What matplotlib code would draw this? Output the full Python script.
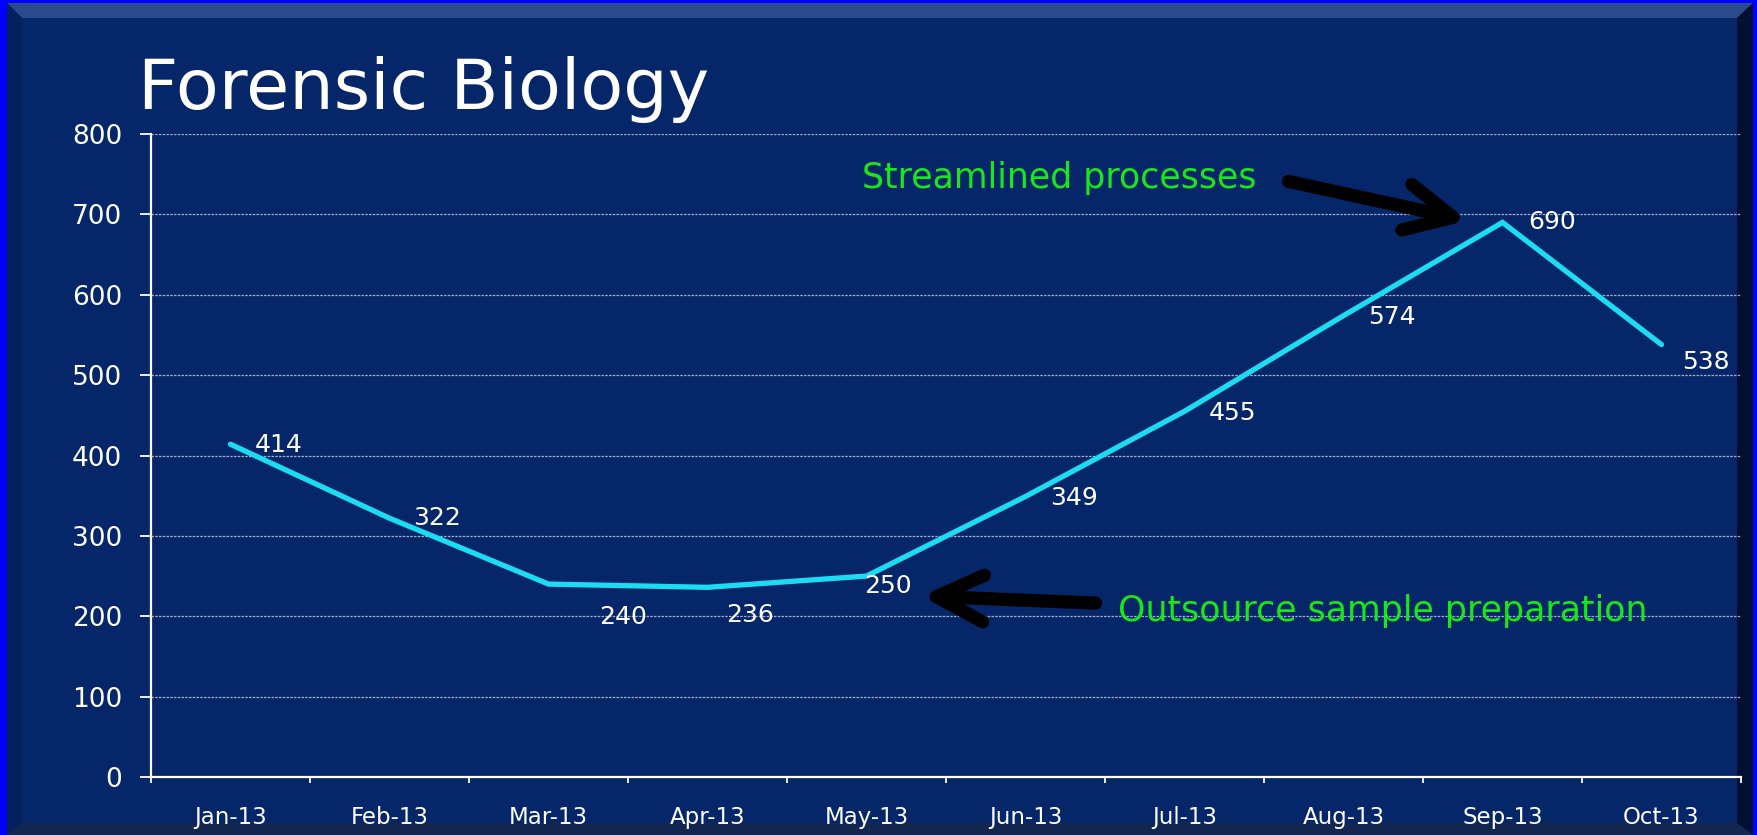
import matplotlib
matplotlib.use("Agg")
import matplotlib.pyplot as plt
import matplotlib.patches as mpatches
import matplotlib.transforms as mtransforms
import numpy as np

# ---- data ----
months = ['Jan-13', 'Feb-13', 'Mar-13', 'Apr-13', 'May-13',
          'Jun-13', 'Jul-13', 'Aug-13', 'Sep-13', 'Oct-13']
counts = [414, 322, 240, 236, 250, 349, 455, 574, 690, 538]
y_ticks = [0, 100, 200, 300, 400, 500, 600, 700, 800]
title = 'Forensic Biology'
note_peak = 'Streamlined processes'
note_low = 'Outsource sample preparation'

# ---- style / layout ----
label_offsets = [(48, -1), (48, 0), (75, -33), (43, -28), (21, -10),
                 (48, -2), (48, -2), (48, -1), (50, 0), (44, -17)]
W, H = 1758, 835
NAVY = '#06266A'
LINE = '#1CDCF2'
GREEN = '#1AE61A'

plt.rcParams['font.family'] = ['DejaVu Sans']
fig = plt.figure(figsize=(W / 100, H / 100), dpi=100)
fig.patch.set_facecolor('#0000FF')


def px(x, y):
    return (x / W, (H - y) / H)


def poly(points, color):
    p = mpatches.Polygon([px(x, y) for x, y in points], closed=True,
                         transform=fig.transFigure, facecolor=color,
                         edgecolor='none', zorder=-10)
    fig.patches.append(p)


# panel with bevel
poly([(7, 3), (1753, 3), (1753, 835), (7, 835)], NAVY)
poly([(7, 3), (1753, 3), (1737, 18), (22, 18)], '#2A4A8C')
poly([(7, 3), (22, 18), (22, 823), (7, 835)], '#04215E')
poly([(1753, 3), (1753, 835), (1737, 823), (1737, 18)], '#020F33')
poly([(7, 835), (1753, 835), (1737, 823), (22, 823)], '#13264F')

# axes
left, right, top, bottom = 151, 1741, 134, 777
ax = fig.add_axes([left / W, (H - bottom) / H, (right - left) / W, (bottom - top) / H])
ax.set_facecolor('none')
x = np.arange(len(months))
ax.set_xlim(-0.5, len(months) - 0.5)
ax.set_ylim(0, 800)

for s in ['top', 'right']:
    ax.spines[s].set_visible(False)
for s in ['left', 'bottom']:
    ax.spines[s].set_color('white')
    ax.spines[s].set_linewidth(1.6)

ax.set_yticks(y_ticks)
ax.set_yticklabels([str(v) for v in y_ticks])
ax.tick_params(axis='y', colors='white', labelsize=19, length=7.6, width=1.3, pad=13)
ax.set_xticks(x)
ax.set_xticklabels(months)
ax.tick_params(axis='x', which='major', colors='white', labelsize=16.5, length=0, pad=21)
ax.set_xticks(np.arange(-0.5, len(months)), minor=True)
ax.tick_params(axis='x', which='minor', colors='white', length=4.5, width=1.3)

for v in y_ticks[1:]:
    ax.axhline(v, color='#A2ACC8', lw=0.9, ls=(0, (2, 1)), zorder=1)

ax.plot(x, counts, color=LINE, lw=3.8, solid_capstyle='round',
        solid_joinstyle='miter', zorder=3)

for xi, yi, (dx, dy) in zip(x, counts, label_offsets):
    ax.annotate(str(yi), xy=(xi, yi), xytext=(dx, dy), textcoords='offset pixels',
                ha='center', va='center', color='white', fontsize=18, zorder=4)


def off(dx, dy):
    return mtransforms.offset_copy(ax.transData, fig=fig, x=dx, y=dy, units='dots')


arrow_kw = dict(arrowstyle='->, head_length=0.85, head_width=0.42', color='black',
                lw=9.5, capstyle='round', joinstyle='round', shrinkA=0, shrinkB=0,
                mutation_scale=40)

# peak arrow (Sep)
ip = 8
ax.annotate('', xy=(x[ip], counts[ip]), xycoords=off(-35, 2),
            xytext=(x[ip], counts[ip]), textcoords=off(-214, 41),
            arrowprops=arrow_kw, annotation_clip=False)
ax.text(x[ip], counts[ip], note_peak, transform=off(-640, 44), color=GREEN,
        fontsize=25, ha='left', va='center')

# low arrow (May)
il = 4
ax.annotate('', xy=(x[il], counts[il]), xycoords=off(55, -20),
            xytext=(x[il], counts[il]), textcoords=off(229, -27),
            arrowprops=arrow_kw, annotation_clip=False)
ax.text(x[il], counts[il], note_low, transform=off(252, -35), color=GREEN,
        fontsize=25, ha='left', va='center')

fig.text(138 / W, (H - 109) / H, title, color='white', fontsize=50.5,
         ha='left', va='baseline')

fig.savefig('out.png', dpi=100, facecolor=fig.get_facecolor())
